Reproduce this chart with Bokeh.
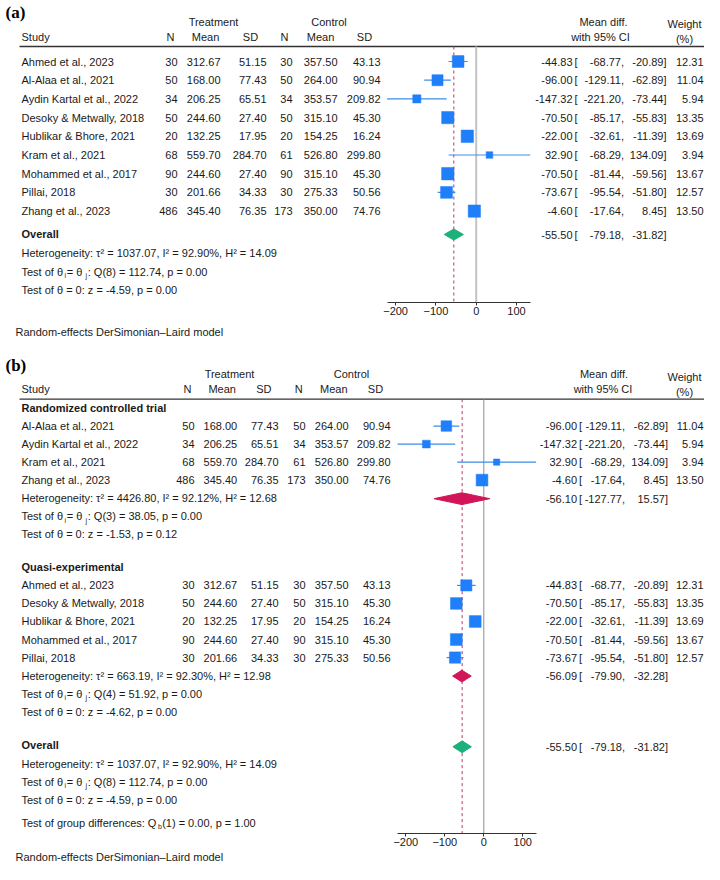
import math
from bokeh.plotting import figure
from bokeh.models import Range1d, LinearAxis, FixedTicker, ColumnDataSource, Title
from bokeh.layouts import column
from bokeh.embed import file_html
from bokeh.resources import INLINE
from bokeh.core.properties import value

# ---------------- data ----------------
studies = ["Ahmed et al., 2023", "Al-Alaa et al., 2021", "Aydin Kartal et al., 2022",
           "Desoky & Metwally, 2018", "Hublikar & Bhore, 2021", "Kram et al., 2021",
           "Mohammed et al., 2017", "Pillai, 2018", "Zhang et al., 2023"]
t_n = [30, 50, 34, 50, 20, 68, 90, 30, 486]
t_mean = [312.67, 168.00, 206.25, 244.60, 132.25, 559.70, 244.60, 201.66, 345.40]
t_sd = [51.15, 77.43, 65.51, 27.40, 17.95, 284.70, 27.40, 34.33, 76.35]
c_n = [30, 50, 34, 50, 20, 61, 90, 30, 173]
c_mean = [357.50, 264.00, 353.57, 315.10, 154.25, 526.80, 315.10, 275.33, 350.00]
c_sd = [43.13, 90.94, 209.82, 45.30, 16.24, 299.80, 45.30, 50.56, 74.76]
md = [-44.83, -96.00, -147.32, -70.50, -22.00, 32.90, -70.50, -73.67, -4.60]
ci_lo = [-68.77, -129.11, -221.20, -85.17, -32.61, -68.29, -81.44, -95.54, -17.64]
ci_hi = [-20.89, -62.89, -73.44, -55.83, -11.39, 134.09, -59.56, -51.80, 8.45]
weight = [12.31, 11.04, 5.94, 13.35, 13.69, 3.94, 13.67, 12.57, 13.50]

# subgroups (indices into the study lists)
group_names = ["Randomized controlled trial", "Quasi-experimental"]
group_members = [[1, 2, 5, 8], [0, 3, 4, 6, 7]]

# pooled estimates: RCT, Quasi, Overall
pooled_est = [-56.10, -56.09, -55.50]
pooled_lo = [-127.77, -79.90, -79.18]
pooled_hi = [15.57, -32.28, -31.82]
tau2 = [4426.80, 663.19, 1037.07]
i2 = [92.12, 92.30, 92.90]
h2 = [12.68, 12.98, 14.09]
q_df = [3, 4, 8]
q_val = [38.05, 51.92, 112.74]
q_p = [0.00, 0.00, 0.00]
z_val = [-1.53, -4.62, -4.59]
z_p = [0.12, 0.00, 0.00]
qb_df = 1
qb_val = 0.00
qb_p = 1.00

ticks = [-200, -100, 0, 100]
model_note = "Random-effects DerSimonian\u2013Laird model"

# ---------------- style ----------------
FONT = "Liberation Sans"
SERIF = "Liberation Serif"
TXT = "#1a1a1a"
SQ = "#1f7ffb"
CI = "#3a8ee8"
GREEN = "#1cb07a"
RED = "#d11558"
DASH = "#b3366b"

AW = {' ': 278, '=': 584, ':': 278, 'T': 611, 'e': 556, 's': 500, 't': 278, 'o': 556,
      'f': 278, 'g': 556, 'r': 333, 'u': 556, 'p': 556, 'd': 556, 'i': 222, 'n': 556,
      'c': 500, 'Q': 778, '\u03b8': 556}


def tw(s, px=11):
    return sum(AW[ch] for ch in s) * px / 1000.0


def txt(p, xs, ys, texts, align="left", size="11px", style="normal", font=FONT,
        color=TXT, baseline="middle"):
    src = ColumnDataSource(dict(x=list(xs), y=list(ys), t=list(texts)))
    p.text(x="x", y="y", text="t", source=src, text_align=align, text_baseline=baseline,
           text_font=value(font), text_font_size=value(size), text_font_style=style,
           text_color=color)


def f2(v):
    return "%.2f" % v


def make_fig(y_top, y_bot, frame_h, zero_px, scale, bottom_border):
    p = figure(frame_width=704, frame_height=frame_h,
               x_range=Range1d(0, 704), y_range=Range1d(y_bot, y_top),
               x_axis_type=None, y_axis_type=None, toolbar_location=None,
               output_backend="svg", min_border_left=0, min_border_right=0,
               min_border_top=0, min_border_bottom=bottom_border, title=None)
    p.outline_line_color = None
    p.background_fill_color = "white"
    p.border_fill_color = "white"
    p.extra_x_ranges = {"eff": Range1d((0 - zero_px) / scale, (704 - zero_px) / scale)}
    return p


def add_axis(p, standoff_title):
    ax = LinearAxis(x_range_name="eff", ticker=FixedTicker(ticks=ticks),
                    bounds=(min(ci_lo), max(ci_hi)))
    ax.major_tick_out = 3
    ax.major_tick_in = 0
    ax.minor_tick_out = 0
    ax.minor_tick_in = 0
    ax.major_label_standoff = 1
    ax.major_label_text_font = FONT
    ax.major_label_text_font_size = "11px"
    ax.major_label_text_color = TXT
    ax.axis_line_color = "#333333"
    ax.major_tick_line_color = "#333333"
    p.add_layout(ax, "below")
    t = Title(text=model_note, align="left", offset=15, standoff=standoff_title,
              text_font=FONT, text_font_size="11px", text_font_style="normal",
              text_color=TXT)
    p.add_layout(t, "below")


def headers(p, c, y1, y2, yw1, yw2, rule_y):
    txt(p, [c['treat']], [y1], ["Treatment"], "center")
    txt(p, [c['ctrl']], [y1], ["Control"], "center")
    txt(p, [c['md_h']], [y1], ["Mean diff."], "center")
    txt(p, [c['w_h']], [yw1], ["Weight"], "center")
    txt(p, [21], [y2], ["Study"])
    txt(p, c['h2x'], [y2] * 6, ["N", "Mean", "SD", "N", "Mean", "SD"], "center")
    txt(p, [c['ci_h']], [y2], ["with 95% CI"], "center")
    txt(p, [c['w_h']], [yw2], ["(%)"], "center")
    p.segment(x0=[19], x1=[704], y0=[rule_y], y1=[rule_y], line_color="#333333",
              line_width=1.3)


def effect_text(p, ys, es, lo, hi, c):
    n = len(ys)
    txt(p, [c['x1']] * n, ys, [f2(v) for v in es], "right")
    txt(p, [c['x1'] + 2] * n, ys, ["["] * n)
    txt(p, [c['x2']] * n, ys, [f2(v) + "," for v in lo], "right")
    txt(p, [c['x3']] * n, ys, [f2(v) + "]" for v in hi], "right")


def study_rows(p, idx, ys, c, k):
    n = len(idx)
    txt(p, [21] * n, ys, [studies[i] for i in idx])
    txt(p, [c['tn']] * n, ys, [str(t_n[i]) for i in idx], "right")
    txt(p, [c['tm']] * n, ys, [f2(t_mean[i]) for i in idx], "right")
    txt(p, [c['ts']] * n, ys, [f2(t_sd[i]) for i in idx], "right")
    txt(p, [c['cn']] * n, ys, [str(c_n[i]) for i in idx], "right")
    txt(p, [c['cm']] * n, ys, [f2(c_mean[i]) for i in idx], "right")
    txt(p, [c['cs']] * n, ys, [f2(c_sd[i]) for i in idx], "right")
    effect_text(p, ys, [md[i] for i in idx], [ci_lo[i] for i in idx],
                [ci_hi[i] for i in idx], c)
    txt(p, [c['w']] * n, ys, [f2(weight[i]) for i in idx], "right")
    p.segment(x0=[ci_lo[i] for i in idx], x1=[ci_hi[i] for i in idx], y0=ys, y1=ys,
              line_color=CI, line_width=1.2, x_range_name="eff")
    p.scatter(x=[md[i] for i in idx], y=ys, marker="square",
              size=[k * math.sqrt(weight[i]) for i in idx], fill_color=SQ,
              line_color=SQ, line_width=0.5, x_range_name="eff")


def pooled(p, y, g, color, half, c):
    p.patches(xs=[[pooled_lo[g], pooled_est[g], pooled_hi[g], pooled_est[g]]],
              ys=[[y, y - half, y, y + half]], fill_color=color, line_color=color,
              x_range_name="eff")
    effect_text(p, [y], [pooled_est[g]], [pooled_lo[g]], [pooled_hi[g]], c)


def stats(p, ys, g):
    x0 = 21
    txt(p, [x0], [ys[0]], ["Heterogeneity: \u03c4\u00b2 = %.2f, I\u00b2 = %.2f%%, H\u00b2 = %.2f"
                          % (tau2[g], i2[g], h2[g])])
    y = ys[1]
    a = "Test of \u03b8"
    b = " = \u03b8"
    xa = x0 + tw(a)
    txt(p, [xa + 0.2], [y + 4], ["i"], size="7px")
    xb = xa + 2.4
    txt(p, [x0, xb], [y, y], [a, b])
    xj = xb + tw(b)
    txt(p, [xj + 0.2], [y + 4], ["j"], size="7px")
    txt(p, [xj + 2.4], [y], [": Q(%d) = %.2f, p = %.2f" % (q_df[g], q_val[g], q_p[g])])
    txt(p, [x0], [ys[2]], ["Test of \u03b8 = 0: z = %.2f, p = %.2f" % (z_val[g], z_p[g])])


# ---------------- panel (a) ----------------
ca = dict(treat=213, ctrl=328.5, md_h=603, w_h=684, ci_h=600,
          h2x=[170, 205, 250, 284, 320, 364],
          tn=177, tm=220, ts=266, cn=292, cm=337, cs=380,
          x1=572, x2=623.5, x3=666, w=703)
A_TOP, A_AX = 0, 302
pa = make_fig(A_TOP, A_AX, 302, 475.7, 0.403, 50)
txt(pa, [5], [12], ["(a)"], size="17px", style="bold", font=SERIF, color="#000000")
headers(pa, ca, 21, 36, 23, 38, 46)
pa.segment(x0=[0], x1=[0], y0=[46], y1=[A_AX], line_color="#c4c4c4", line_width=2,
           x_range_name="eff")
pa.segment(x0=[pooled_est[2]], x1=[pooled_est[2]], y0=[46], y1=[A_AX], line_color=DASH,
           line_width=1, line_dash="3 3", x_range_name="eff")
ya = [61 + 18.7 * i for i in range(len(studies))]
study_rows(pa, list(range(len(studies))), ya, ca, 3.35)
txt(pa, [21], [233.3], ["Overall"], style="bold")
pooled(pa, 234, 2, GREEN, 5.5, ca)
stats(pa, [252.3, 271, 289.7], 2)
add_axis(pa, 12)

# ---------------- panel (b) ----------------
cb = dict(treat=229, ctrl=351, md_h=603.5, w_h=684, ci_h=602.5,
          h2x=[187, 221.7, 263.3, 298.3, 333.3, 375],
          tn=194, tm=236.7, ts=278, cn=305, cm=348, cs=390,
          x1=576.5, x2=624.5, x3=667.5, w=703)
B_TOP, B_AX = 352, 840
pb = make_fig(B_TOP, B_AX, 481, 483.3, 0.39, 31)
txt(pb, [5], [365], ["(b)"], size="17px", style="bold", font=SERIF, color="#000000")
headers(pb, cb, 374.3, 389.3, 376.7, 391.7, 399.3)
pb.segment(x0=[0], x1=[0], y0=[399.3], y1=[B_AX], line_color="#8c8c8c", line_width=1,
           x_range_name="eff")
pb.segment(x0=[pooled_est[2]], x1=[pooled_est[2]], y0=[399.3], y1=[B_AX], line_color=DASH,
           line_width=1, line_dash="3 3", x_range_name="eff")
step = 18.3
for g, start in zip([0, 1], [408.3, 570.0]):
    mem = group_members[g]
    txt(pb, [21], [start], [group_names[g]], style="bold")
    ys = [start + step * (j + 1) for j in range(len(mem))]
    study_rows(pb, mem, ys, cb, 3.2)
    yh = start + step * (len(mem) + 1)
    pooled(pb, yh + 0.5, g, RED, 6, cb)
    stats(pb, [yh, yh + step, yh + 2 * step], g)
txt(pb, [21], [750.7], ["Overall"], style="bold")
pooled(pb, 752, 2, GREEN, 6, cb)
stats(pb, [769.3, 787.5, 805.7], 2)
yq = 829
qa = "Test of group differences: Q"
txt(pb, [21], [yq], [qa])
txt(pb, [21 + tw(qa) + 0.2], [yq + 4], ["b"], size="7px")
txt(pb, [21 + tw(qa) + 4.3], [yq], ["(%d) = %.2f, p = %.2f" % (qb_df, qb_val, qb_p)])
add_axis(pb, 0)

layout = column(pa, pb, spacing=0)
open("out.html", "w").write(file_html(layout, INLINE))
